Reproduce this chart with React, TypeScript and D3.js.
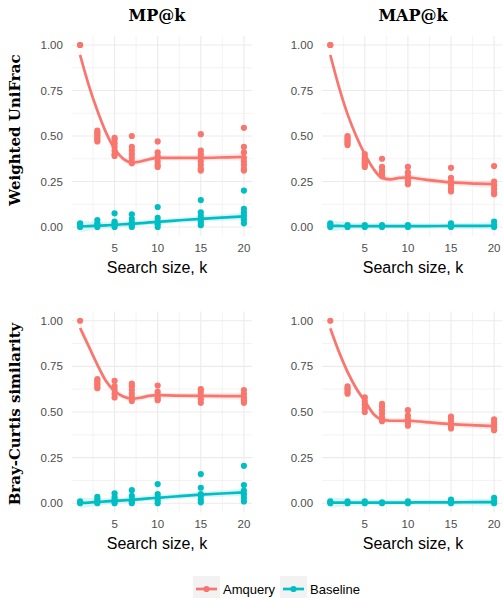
import React from 'react';
import * as d3 from 'd3';

// search sizes where points were measured
const kValues = [1, 3, 5, 7, 10, 15, 20];
// k grid for the smoothed curves
const fitK = [1, 2, 3, 4, 5, 6, 7, 8, 9, 10, 12, 15, 18, 20];
const seHalf = [0.03, 0.025, 0.02, 0.018, 0.016, 0.015, 0.015, 0.015, 0.015, 0.015, 0.015, 0.016, 0.018, 0.02];

const methods = ['Amquery', 'Baseline'];
const colors = ['#F8766D', '#00BFC4'];
const colTitles = ['MP@k', 'MAP@k'];
const rowTitles = ['Weighted UniFrac', 'Bray-Curtis similarity'];
const yTicks = [0, 0.25, 0.5, 0.75, 1];
const yMinor = [0.125, 0.375, 0.625, 0.875];
const xTicks = [5, 10, 15, 20];
const xMinor = [2.5, 7.5, 12.5, 17.5];

// Weighted UniFrac, MP@k
const mpUnifracAmquery = [
  [1.0, 1.0],
  [0.47, 0.48, 0.49, 0.5, 0.51, 0.52, 0.53],
  [0.39, 0.4, 0.42, 0.44, 0.46, 0.48, 0.49],
  [0.5, 0.44, 0.42, 0.4, 0.38, 0.36, 0.35],
  [0.47, 0.41, 0.39, 0.38, 0.36, 0.34, 0.33],
  [0.51, 0.42, 0.4, 0.38, 0.36, 0.34, 0.32, 0.31],
  [0.545, 0.44, 0.41, 0.38, 0.36, 0.34, 0.32, 0.31],
];
const mpUnifracBaseline = [
  [0, 0.005, 0.01, 0.02],
  [0, 0.01, 0.02, 0.038],
  [0, 0.01, 0.02, 0.03, 0.075],
  [0, 0.01, 0.025, 0.045, 0.07],
  [0, 0.015, 0.03, 0.05, 0.11],
  [0.01, 0.025, 0.04, 0.06, 0.08, 0.148],
  [0.02, 0.04, 0.06, 0.08, 0.1, 0.2],
];
const mpUnifracAmqueryFit = [0.945, 0.78, 0.64, 0.52, 0.43, 0.375, 0.355, 0.36, 0.372, 0.38, 0.38, 0.38, 0.383, 0.385];
const mpUnifracBaselineFit = [0.003, 0.005, 0.007, 0.009, 0.012, 0.015, 0.018, 0.021, 0.025, 0.028, 0.035, 0.045, 0.053, 0.058];

// Weighted UniFrac, MAP@k
const mapUnifracAmquery = [
  [1.0, 1.0],
  [0.45, 0.46, 0.47, 0.48, 0.49, 0.5],
  [0.33, 0.34, 0.35, 0.36, 0.37, 0.38, 0.4],
  [0.375, 0.33, 0.31, 0.3, 0.29, 0.28],
  [0.33, 0.3, 0.28, 0.26, 0.25, 0.235],
  [0.325, 0.27, 0.25, 0.23, 0.21, 0.195],
  [0.335, 0.25, 0.23, 0.21, 0.19, 0.18],
];
const mapUnifracBaseline = [
  [0, 0.01, 0.02],
  [0, 0.01],
  [0, 0.01],
  [0, 0.01],
  [0, 0.01],
  [0, 0.01, 0.02],
  [0, 0.01, 0.03],
];
const mapUnifracAmqueryFit = [0.945, 0.77, 0.62, 0.5, 0.4, 0.32, 0.27, 0.262, 0.27, 0.272, 0.26, 0.245, 0.238, 0.235];
const mapUnifracBaselineFit = [0.006, 0.006, 0.005, 0.005, 0.005, 0.005, 0.005, 0.005, 0.005, 0.005, 0.005, 0.006, 0.006, 0.007];

// Bray-Curtis, MP@k
const mpBrayAmquery = [
  [1.0],
  [0.63, 0.64, 0.65, 0.66, 0.67, 0.68],
  [0.58, 0.6, 0.62, 0.64, 0.67],
  [0.56, 0.58, 0.6, 0.62, 0.64, 0.655],
  [0.645, 0.61, 0.59, 0.575, 0.565],
  [0.55, 0.57, 0.59, 0.61, 0.625],
  [0.55, 0.565, 0.58, 0.6, 0.62],
];
const mpBrayBaseline = [
  [0, 0.005, 0.01],
  [0, 0.01, 0.02, 0.035],
  [0, 0.01, 0.02, 0.035, 0.055],
  [0, 0.01, 0.02, 0.04, 0.072],
  [0, 0.015, 0.03, 0.05, 0.105],
  [0.005, 0.02, 0.04, 0.05, 0.085, 0.16],
  [0.01, 0.03, 0.05, 0.07, 0.1, 0.205],
];
const mpBrayAmqueryFit = [0.96, 0.86, 0.76, 0.67, 0.615, 0.585, 0.573, 0.578, 0.588, 0.592, 0.59, 0.588, 0.587, 0.587];
const mpBrayBaselineFit = [0.002, 0.004, 0.007, 0.01, 0.013, 0.016, 0.019, 0.023, 0.027, 0.03, 0.037, 0.047, 0.055, 0.06];

// Bray-Curtis, MAP@k
const mapBrayAmquery = [
  [1.0],
  [0.6, 0.61, 0.62, 0.63, 0.64],
  [0.5, 0.52, 0.54, 0.56, 0.58],
  [0.45, 0.47, 0.49, 0.51, 0.53, 0.545],
  [0.51, 0.48, 0.46, 0.44, 0.425],
  [0.41, 0.425, 0.44, 0.46, 0.475],
  [0.4, 0.415, 0.43, 0.445, 0.46],
];
const mapBrayBaseline = [
  [0, 0.005, 0.01],
  [0, 0.01],
  [0, 0.01],
  [0, 0.005],
  [0, 0.01],
  [0, 0.01, 0.02],
  [0, 0.01, 0.03],
];
const mapBrayAmqueryFit = [0.958, 0.83, 0.72, 0.63, 0.56, 0.49, 0.458, 0.452, 0.452, 0.452, 0.445, 0.434, 0.427, 0.423];
const mapBrayBaselineFit = [0.004, 0.004, 0.004, 0.004, 0.004, 0.004, 0.004, 0.004, 0.004, 0.004, 0.005, 0.005, 0.006, 0.006];

const panels = [
  { row: 0, col: 0, pts: [mpUnifracAmquery, mpUnifracBaseline], fits: [mpUnifracAmqueryFit, mpUnifracBaselineFit] },
  { row: 0, col: 1, pts: [mapUnifracAmquery, mapUnifracBaseline], fits: [mapUnifracAmqueryFit, mapUnifracBaselineFit] },
  { row: 1, col: 0, pts: [mpBrayAmquery, mpBrayBaseline], fits: [mpBrayAmqueryFit, mpBrayBaselineFit] },
  { row: 1, col: 1, pts: [mapBrayAmquery, mapBrayBaseline], fits: [mapBrayAmqueryFit, mapBrayBaselineFit] },
];

const W = 503;
const H = 598;
const colX = [[71.9, 252.1], [322.1, 502.3]];
const rowY = [[236.1, 35.9], [512.4, 311.6]];
const colTitleX = [157, 413];
const rowTitleY = [130, 414];

const sans = 'Liberation Sans, Arial, Helvetica, sans-serif';
const serif = 'DejaVu Serif, serif';

function Panel({ p }) {
  const x = d3.scaleLinear().domain([0.05, 20.95]).range(colX[p.col]);
  const y = d3.scaleLinear().domain([-0.05, 1.05]).range(rowY[p.row]);
  const [x0, x1] = x.range();
  const [yb, yt] = y.range();
  const line = d3.line<number>().x((_, i) => x(fitK[i])).y(d => y(d)).curve(d3.curveMonotoneX);
  const area = d3.area<number>()
    .x((_, i) => x(fitK[i]))
    .y0((d, i) => y(d - seHalf[i]))
    .y1((d, i) => y(d + seHalf[i]))
    .curve(d3.curveMonotoneX);

  return (
    <g>
      {yMinor.map(v => (
        <line key={'ym' + v} x1={x0} x2={x1} y1={y(v)} y2={y(v)} stroke="#EBEBEB" strokeWidth={0.6} />
      ))}
      {xMinor.map(v => (
        <line key={'xm' + v} x1={x(v)} x2={x(v)} y1={yb} y2={yt} stroke="#EBEBEB" strokeWidth={0.6} />
      ))}
      {yTicks.map(v => (
        <line key={'yM' + v} x1={x0} x2={x1} y1={y(v)} y2={y(v)} stroke="#EBEBEB" strokeWidth={1.1} />
      ))}
      {xTicks.map(v => (
        <line key={'xM' + v} x1={x(v)} x2={x(v)} y1={yb} y2={yt} stroke="#EBEBEB" strokeWidth={1.1} />
      ))}
      {yTicks.map(v => (
        <text key={'yl' + v} x={x0 - 9} y={y(v)} dy="0.35em" textAnchor="end" fontSize={11.5} fill="#4D4D4D" fontFamily={sans}>
          {d3.format('.2f')(v)}
        </text>
      ))}
      {xTicks.map(v => (
        <text key={'xl' + v} x={x(v)} y={yb + 12} dy="0.35em" textAnchor="middle" fontSize={11.5} fill="#4D4D4D" fontFamily={sans}>
          {v}
        </text>
      ))}
      <text x={colTitleX[p.col]} y={yb + 37} textAnchor="middle" fontSize={16} fill="#000" fontFamily={sans}>
        Search size, k
      </text>
      {p.pts.map((series, m) => (
        <g key={'p' + m} fill={colors[m]}>
          {series.map((vals, ki) => vals.map((v, j) => (
            <circle key={ki + '-' + j} cx={x(kValues[ki])} cy={y(v)} r={3.1} />
          )))}
        </g>
      ))}
      {p.fits.map((f, m) => (
        <path key={'a' + m} d={area(f) || ''} fill={colors[m]} fillOpacity={0.15} />
      ))}
      {p.fits.map((f, m) => (
        <path key={'l' + m} d={line(f) || ''} fill="none" stroke={colors[m]} strokeWidth={2.7} />
      ))}
    </g>
  );
}

export default function App() {
  return (
    <svg width={W} height={H} style={{ display: 'block', position: 'absolute', left: 0, top: 0, background: '#fff' }}>
      {colTitles.map((t, i) => (
        <text key={t} x={colTitleX[i]} y={21} textAnchor="middle" fontSize={16} fontWeight="bold" fontFamily={serif}>
          {t}
        </text>
      ))}
      {rowTitles.map((t, i) => (
        <text key={t} transform={`translate(15,${rowTitleY[i]}) rotate(-90)`} textAnchor="middle" dy="0.35em" fontSize={15} fontWeight="bold" fontFamily={serif}>
          {t}
        </text>
      ))}
      {panels.map((p, i) => <Panel key={i} p={p} />)}
      <g fontFamily={sans} fontSize={13}>
        {methods.map((m, i) => {
          const kx = [193, 280][i];
          return (
            <g key={m}>
              <rect x={kx} y={576} width={27} height={22} fill="#F2F2F2" />
              <line x1={kx + 3} x2={kx + 24} y1={589} y2={589} stroke={colors[i]} strokeWidth={2.7} />
              <circle cx={kx + 13.5} cy={589} r={3.1} fill={colors[i]} />
              <text x={kx + 30} y={589} dy="0.35em">{m}</text>
            </g>
          );
        })}
      </g>
    </svg>
  );
}
